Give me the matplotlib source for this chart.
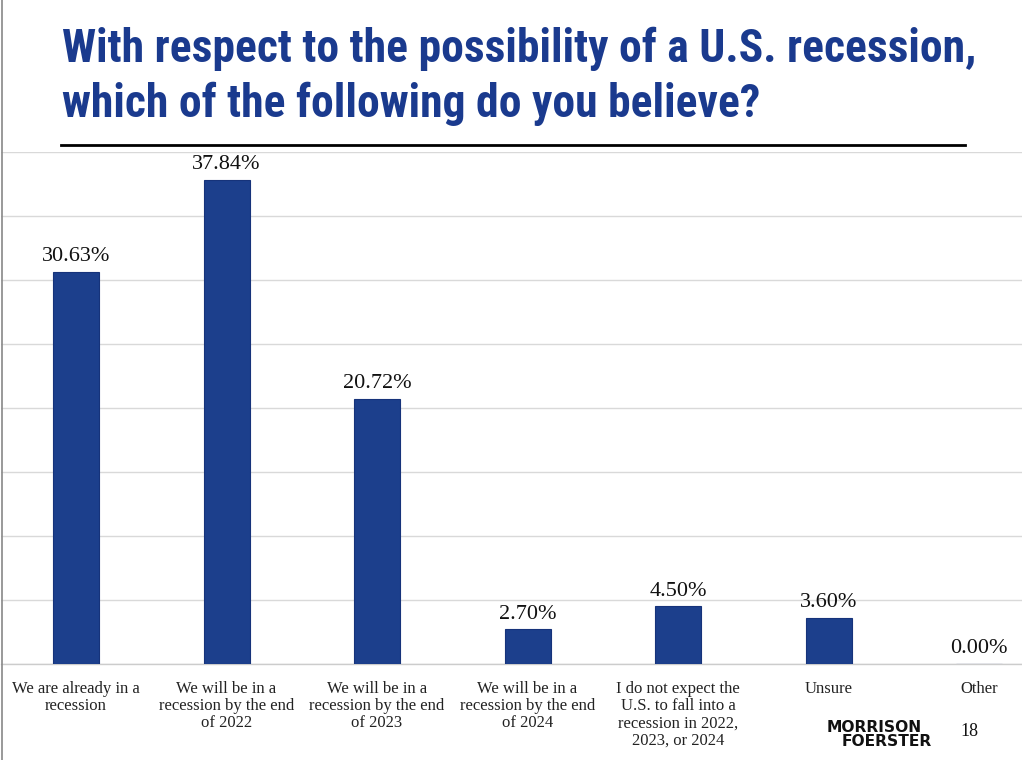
import matplotlib.pyplot as plt
from matplotlib import font_manager

# survey answers
categories = [
    "We are already in a\nrecession",
    "We will be in a\nrecession by the end\nof 2022",
    "We will be in a\nrecession by the end\nof 2023",
    "We will be in a\nrecession by the end\nof 2024",
    "I do not expect the\nU.S. to fall into a\nrecession in 2022,\n2023, or 2024",
    "Unsure",
    "Other",
]
values = [30.63, 37.84, 20.72, 2.70, 4.50, 3.60, 0.00]
value_labels = ["30.63%", "37.84%", "20.72%", "2.70%", "4.50%", "3.60%", "0.00%"]
y_ticks = [0, 5, 10, 15, 20, 25, 30, 35, 40]

title_lines = ["With respect to the possibility of a U.S. recession,",
               "which of the following do you believe?"]

names = sorted(set(f.name for f in font_manager.fontManager.ttflist))
title_font = "Roboto"
for cand in ["Roboto Condensed", "Liberation Sans Narrow", "DejaVu Sans Condensed", "Open Sans Condensed"]:
    if cand in names:
        title_font = cand
        break
serif = "Liberation Serif"

navy = "#1c3f8c"
W, H = 1022, 760
fig = plt.figure(figsize=(W / 100, H / 100), dpi=100)

# axes placed in pixel coords: x from 1 to 1022, y from 152 to 664
ax = fig.add_axes([1 / W, 1 - 664 / H, 1021 / W, 512 / H])
cat_w = 150.5
x = list(range(len(values)))
ax.bar(x, values, width=46 / cat_w, color=navy, edgecolor="#16337a", linewidth=0.8, zorder=3)
ax.set_xlim(-75 / cat_w, -75 / cat_w + 1021 / cat_w)
ax.set_ylim(0, 40)
ax.set_yticks(y_ticks)
ax.yaxis.grid(True, color="#d9d9d9", linewidth=1.0, zorder=0)
ax.tick_params(axis="y", left=False, labelleft=False)
ax.tick_params(axis="x", bottom=False, pad=9)
ax.set_xticks(x)
ax.set_xticklabels(categories, fontsize=12, family=serif, color="#222222", linespacing=1.08)
for s in ["top", "right", "left"]:
    ax.spines[s].set_visible(False)
ax.spines["bottom"].set_color("#cccccc")
ax.spines["bottom"].set_linewidth(1.0)

for xi, v, lab in zip(x, values, value_labels):
    ax.annotate(lab, (xi, v), xytext=(0, 4), textcoords="offset points",
                ha="center", va="bottom", fontsize=16, family=serif, color="#111111")

# title: fit the first line to the width it has in the slide (62..978 px)
t1 = fig.text(62 / W, 1 - 62 / H, title_lines[0], ha="left", va="baseline", fontsize=33,
              fontweight="bold", family=title_font, color="#1a3a8e")
t2 = fig.text(62 / W, 1 - 117 / H, title_lines[1], ha="left", va="baseline", fontsize=33,
              fontweight="bold", family=title_font, color="#1a3a8e")
r = fig.canvas.get_renderer()
w = t1.get_window_extent(r).width
size = 33 * 916 / w
t1.set_fontsize(size)
t2.set_fontsize(size)

fig.add_artist(plt.Line2D([61 / W, 965 / W], [1 - 145 / H] * 2, color="black", linewidth=2))

# page border on the left
fig.add_artist(plt.Line2D([1.5 / W, 1.5 / W], [0, 1], color="#888888", linewidth=1.2))

# logo and page number
fig.text(827 / W, 1 - 727 / H, "MORRISON", ha="left", va="center", fontsize=11.2,
         fontweight="bold", family="DejaVu Sans", color="#111111")
fig.text(842 / W, 1 - 742 / H, "FOERSTER", ha="left", va="center", fontsize=11.2,
         fontweight="bold", family="DejaVu Sans", color="#111111")
fig.text(969 / W, 1 - 732 / H, "18", ha="center", va="center", fontsize=13,
         family=serif, color="#111111")

fig.savefig("out.png", dpi=100)
